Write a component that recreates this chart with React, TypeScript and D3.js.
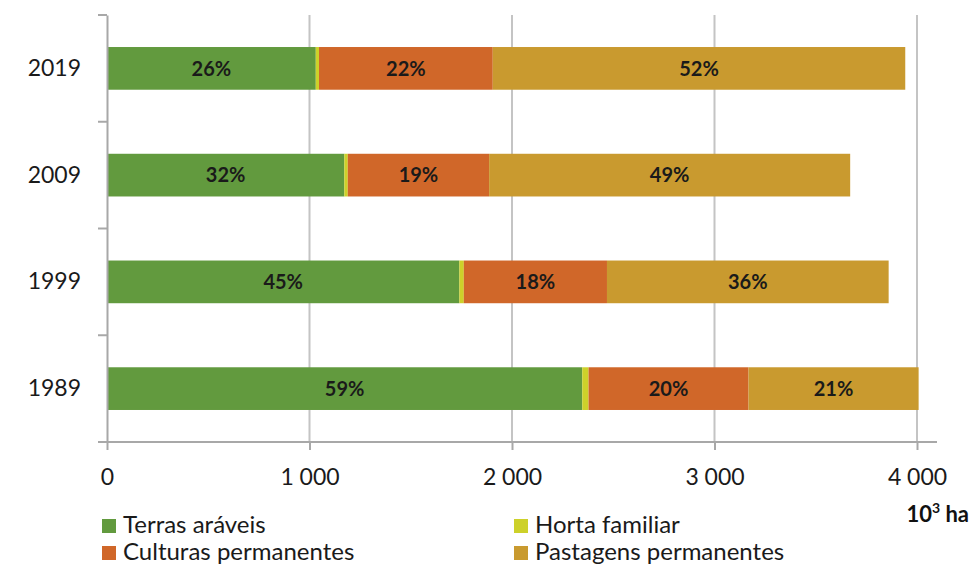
import React, { useRef, useEffect } from 'react'
import { select, scaleLinear, scaleBand, stack, axisBottom, axisLeft } from 'd3'

// area values, 10^3 ha
const years = ['2019', '2009', '1999', '1989']
const terrasAraveis = [1031, 1172, 1740, 2347]
const hortaFamiliar = [16, 17, 22, 31]
const culturasPermanentes = [858, 698, 707, 790]
const pastagensPermanentes = [2037, 1783, 1391, 840]
const pctLabels = [
  ['26%', '', '22%', '52%'],
  ['32%', '', '19%', '49%'],
  ['45%', '', '18%', '36%'],
  ['59%', '', '20%', '21%'],
]
const seriesNames = ['Terras aráveis', 'Horta familiar', 'Culturas permanentes', 'Pastagens permanentes']
const seriesKeys = ['ta', 'hf', 'cp', 'pp']
const colors = ['#629a3e', '#cdd12a', '#d06729', '#c99a2f']
const xTicks = [0, 1000, 2000, 3000, 4000]

const W = 972, H = 567
const font = 'Lato, "Open Sans", sans-serif'

export default function App () {
  const ref = useRef<SVGSVGElement>(null)

  useEffect(() => {
    if (ref.current === null) return
    const svg = select(ref.current)
    svg.selectAll('*').remove()

    const x = scaleLinear().domain([0, 4000]).range([107, 917])
    const y = scaleBand().domain(years).range([15, 442]).paddingInner(0.6).paddingOuter(0.3)
    const yFull = scaleBand().domain(years).range([15, 442])

    const rows = years.map((yr, i) => ({
      year: yr,
      ta: terrasAraveis[i],
      hf: hortaFamiliar[i],
      cp: culturasPermanentes[i],
      pp: pastagensPermanentes[i],
    }))
    const layers = stack<any>().keys(seriesKeys)(rows)

    // grid lines
    svg.append('g')
      .selectAll('line')
      .data(xTicks.slice(1))
      .join('line')
      .attr('x1', d => x(d)).attr('x2', d => x(d))
      .attr('y1', 15).attr('y2', 442)
      .attr('stroke', '#c4c4c4')
      .attr('stroke-width', 2)

    // bars
    const body = svg.append('g')
    layers.forEach((layer, si) => {
      body.append('g')
        .selectAll('rect')
        .data(layer)
        .join('rect')
        .attr('x', (d: any) => x(d[0]))
        .attr('y', (d: any) => y(d.data.year)!)
        .attr('width', (d: any) => x(d[1]) - x(d[0]))
        .attr('height', y.bandwidth())
        .attr('fill', colors[si])
    })

    // percent labels
    layers.forEach((layer, si) => {
      body.append('g')
        .selectAll('text')
        .data(layer)
        .join('text')
        .attr('x', (d: any) => (x(d[0]) + x(d[1])) / 2)
        .attr('y', (d: any) => y(d.data.year)! + y.bandwidth() / 2)
        .attr('dy', '0.36em')
        .attr('text-anchor', 'middle')
        .attr('font-family', font)
        .attr('font-weight', 'bold')
        .attr('font-size', 20)
        .attr('fill', '#1a1a1a')
        .text((d: any, i: number) => pctLabels[i][si])
    })

    // x axis
    const xAxis = svg.append('g')
      .attr('transform', 'translate(0,442)')
      .call(axisBottom(x).tickValues(xTicks).tickSize(8).tickPadding(19)
        .tickFormat((d: any) => d === 0 ? '0' : `${Math.floor(d / 1000)} 000`))
    xAxis.select('.domain').remove()
    xAxis.append('line')
      .attr('x1', 98).attr('x2', 937).attr('y1', 0).attr('y2', 0)
      .attr('stroke', '#a8a8a8').attr('stroke-width', 2)
    xAxis.selectAll('.tick line').attr('stroke', '#a8a8a8').attr('stroke-width', 2)
    xAxis.selectAll('.tick text')
      .attr('font-family', font).attr('font-size', 23).attr('fill', '#1a1a1a')

    // y axis
    const yAxis = svg.append('g')
      .attr('transform', 'translate(107,0)')
      .call(axisLeft(yFull).tickSize(0).tickPadding(26))
    yAxis.select('.domain').attr('stroke', '#a8a8a8').attr('stroke-width', 2)
    yAxis.selectAll('.tick text')
      .attr('font-family', font).attr('font-size', 23).attr('fill', '#1a1a1a')
    yAxis.append('g')
      .selectAll('line')
      .data([15, ...years.map(d => yFull(d)! + yFull.bandwidth())])
      .join('line')
      .attr('x1', -9).attr('x2', 0)
      .attr('y1', d => d).attr('y2', d => d)
      .attr('stroke', '#a8a8a8').attr('stroke-width', 2)

    // unit
    const unit = svg.append('text')
      .attr('x', 969).attr('y', 522)
      .attr('text-anchor', 'end')
      .attr('font-family', font).attr('font-weight', 'bold').attr('font-size', 22)
      .attr('fill', '#111')
    unit.append('tspan').text('10')
    unit.append('tspan').attr('dy', -9).attr('font-size', 14).text('3')
    unit.append('tspan').attr('dy', 9).text(' ha')

    // legend
    const legendPos = [[102, 525], [514, 525], [102, 552], [514, 552]]
    const legend = svg.append('g')
    seriesNames.forEach((name, i) => {
      const [lx, ly] = legendPos[i]
      legend.append('rect')
        .attr('x', lx).attr('y', ly - 6).attr('width', 14).attr('height', 14)
        .attr('fill', colors[i])
      legend.append('text')
        .attr('x', lx + 21).attr('y', ly)
        .attr('dy', '0.35em')
        .attr('font-family', font).attr('font-size', 24).attr('fill', '#1a1a1a')
        .text(name)
    })
  }, [])

  return (
    <svg ref={ref} width={W} height={H}
      style={{ position: 'absolute', left: 0, top: 0, background: '#fff' }} />
  )
}
